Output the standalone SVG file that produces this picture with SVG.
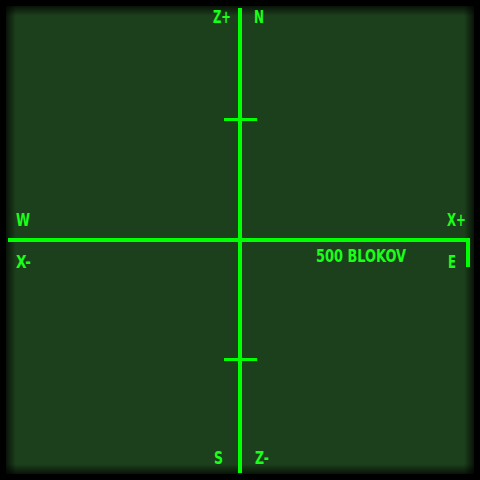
<svg xmlns="http://www.w3.org/2000/svg" width="480" height="480" viewBox="0 0 480 480">
<defs>
<linearGradient id="gT" x1="0" y1="0" x2="0" y2="1"><stop offset="0" stop-color="#000" stop-opacity="1"/><stop offset="1" stop-color="#000" stop-opacity="0"/></linearGradient>
<linearGradient id="gB" x1="0" y1="1" x2="0" y2="0"><stop offset="0" stop-color="#000" stop-opacity="1"/><stop offset="1" stop-color="#000" stop-opacity="0"/></linearGradient>
<linearGradient id="gL" x1="0" y1="0" x2="1" y2="0"><stop offset="0" stop-color="#000" stop-opacity="1"/><stop offset="1" stop-color="#000" stop-opacity="0"/></linearGradient>
<linearGradient id="gR" x1="1" y1="0" x2="0" y2="0"><stop offset="0" stop-color="#000" stop-opacity="1"/><stop offset="1" stop-color="#000" stop-opacity="0"/></linearGradient>
</defs>
<style>
.ln{fill:#00ff00}
.t{fill:#1aff1a;font-family:"DejaVu Sans Condensed","DejaVu Sans",sans-serif;font-weight:bold;font-size:17px;font-stretch:condensed}
</style>
<rect width="480" height="480" fill="#000"/>
<rect x="6" y="6" width="468" height="468" fill="#1c401c"/>
<g id="shade">
<rect x="6" y="6" width="468" height="10" fill="url(#gT)" opacity="0.7"/>
<rect x="6" y="464" width="468" height="10" fill="url(#gB)" opacity="0.7"/>
<rect x="6" y="6" width="10" height="468" fill="url(#gL)" opacity="0.7"/>
<rect x="464" y="6" width="10" height="468" fill="url(#gR)" opacity="0.7"/>
</g>
<g id="connectors">
<rect class="ln" x="238" y="8" width="4" height="465"/>
<rect class="ln" x="8" y="238" width="462" height="4"/>
<rect class="ln" x="466" y="238" width="4" height="29"/>
<rect class="ln" x="224" y="118" width="33" height="3"/>
<rect class="ln" x="224" y="358" width="33" height="3"/>
</g>
<g id="labels">
<text class="t" x="213" y="23" textLength="18" lengthAdjust="spacingAndGlyphs">Z+</text>
<text class="t" x="254" y="23" textLength="10" lengthAdjust="spacingAndGlyphs">N</text>
<text class="t" x="16" y="226" textLength="14" lengthAdjust="spacingAndGlyphs">W</text>
<text class="t" x="16" y="268" textLength="15" lengthAdjust="spacingAndGlyphs">X-</text>
<text class="t" x="447" y="226" textLength="19" lengthAdjust="spacingAndGlyphs">X+</text>
<text class="t" x="448" y="268" textLength="8" lengthAdjust="spacingAndGlyphs">E</text>
<text class="t" x="316" y="262" textLength="90" lengthAdjust="spacingAndGlyphs">500 BLOKOV</text>
<text class="t" x="214" y="464" textLength="9" lengthAdjust="spacingAndGlyphs">S</text>
<text class="t" x="255" y="464" textLength="14" lengthAdjust="spacingAndGlyphs">Z-</text>
</g>
</svg>
